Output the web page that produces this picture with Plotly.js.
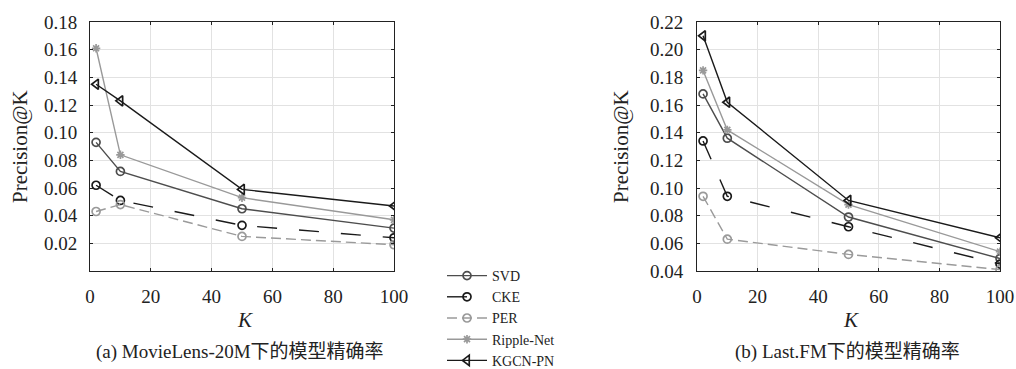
<!DOCTYPE html>
<html>
<head>
<meta charset="utf-8">
<script src="https://cdn.plot.ly/plotly-3.0.1.min.js"></script>
<style>html,body{margin:0;padding:0;background:#fff;}#chart{width:1016px;height:369px;}</style>
</head>
<body>
<div id="chart"></div>
<script>
const K = [2, 10, 50, 100];
const seriesNames = ['SVD', 'CKE', 'PER', 'Ripple-Net', 'KGCN-PN'];
// MovieLens-20M
const mlSVD = [0.093, 0.072, 0.045, 0.031];
const mlCKE = [0.062, 0.051, 0.033, 0.024];
const mlPER = [0.043, 0.048, 0.025, 0.019];
const mlRipple = [0.161, 0.084, 0.053, 0.037];
const mlKGCN = [0.135, 0.123, 0.059, 0.047];
// Last.FM
const fmSVD = [0.168, 0.136, 0.079, 0.049];
const fmCKE = [0.134, 0.094, 0.072, 0.045];
const fmPER = [0.094, 0.063, 0.052, 0.041];
const fmRipple = [0.185, 0.142, 0.088, 0.054];
const fmKGCN = [0.210, 0.162, 0.091, 0.064];
const leftTicks = [0.02, 0.04, 0.06, 0.08, 0.10, 0.12, 0.14, 0.16, 0.18];
const rightTicks = [0.04, 0.06, 0.08, 0.10, 0.12, 0.14, 0.16, 0.18, 0.20, 0.22];
const xTicks = [0, 20, 40, 60, 80, 100];

const styles = [
  {color: '#4d4d4d', dash: 'solid', symbol: 'circle-open', size: 8},
  {color: '#1a1a1a', dash: '20px,22px', symbol: 'circle-open', size: 8},
  {color: '#9a9a9a', dash: '10px,5px', symbol: 'circle-open', size: 8},
  {color: '#999999', dash: 'solid', symbol: 'asterisk-open', size: 7},
  {color: '#1a1a1a', dash: 'solid', symbol: 'triangle-left-open', size: 9}
];
const leftData = [mlSVD, mlCKE, mlPER, mlRipple, mlKGCN];
const rightData = [fmSVD, fmCKE, fmPER, fmRipple, fmKGCN];

const traces = [];
function add(dataArr, xa, ya, showLegend) {
  dataArr.forEach((ys, i) => {
    const s = styles[i];
    traces.push({
      x: K, y: ys, xaxis: xa, yaxis: ya, type: 'scatter', mode: 'lines+markers',
      name: seriesNames[i], showlegend: showLegend,
      line: {color: s.color, width: 1.4, dash: s.dash},
      marker: {symbol: s.symbol, size: s.size, color: s.color, line: {color: s.color, width: 1.7}}
    });
  });
}
add(leftData, 'x', 'y', true);
add(rightData, 'x2', 'y2', false);

const FONT = '"Liberation Serif", "Noto Sans CJK SC", serif';
const axBase = {
  showline: true, mirror: 'ticks', linecolor: '#222', linewidth: 1,
  showgrid: true, gridcolor: '#e2e2e2', gridwidth: 1, zeroline: false,
  ticks: 'inside', ticklen: 3, tickcolor: '#222', tickwidth: 1,
  tickfont: {family: FONT, size: 19, color: '#222'}
};
const yDom = [1 - 271/369, 1 - 22/369];
const layout = {
  width: 1016, height: 369,
  margin: {l: 0, r: 0, t: 0, b: 0, autoexpand: false},
  paper_bgcolor: '#fff', plot_bgcolor: '#fff',
  font: {family: FONT, color: '#222'},
  xaxis: Object.assign({}, axBase, {domain: [90/1016, 394/1016], range: [0, 100], tickvals: xTicks, ticktext: xTicks.map(String), ticklabelstandoff: 8}),
  yaxis: Object.assign({}, axBase, {domain: yDom, range: [0, 0.18], tickvals: leftTicks, ticktext: leftTicks.map(v => v.toFixed(2)), ticklabelstandoff: 8}),
  xaxis2: Object.assign({}, axBase, {domain: [697/1016, 1000/1016], range: [0, 100], tickvals: xTicks, ticktext: xTicks.map(String), anchor: 'y2', ticklabelstandoff: 8}),
  yaxis2: Object.assign({}, axBase, {domain: yDom, range: [0.04, 0.22], tickvals: rightTicks, ticktext: rightTicks.map(v => v.toFixed(2)), anchor: 'x2', ticklabelstandoff: 9}),
  legend: {x: 442/1016, y: 1 - 318/369, xanchor: 'left', yanchor: 'middle', bgcolor: 'rgba(0,0,0,0)',
    font: {family: FONT, size: 14, color: '#222'}, tracegroupgap: 0, itemwidth: 40},
  annotations: [
    {text: 'Precision@K', xref: 'paper', yref: 'paper', x: 20/1016, y: 1 - 147/369, textangle: -90, showarrow: false, font: {family: FONT, size: 21, color: '#222'}, xanchor: 'center', yanchor: 'middle'},
    {text: 'Precision@K', xref: 'paper', yref: 'paper', x: 621/1016, y: 1 - 147/369, textangle: -90, showarrow: false, font: {family: FONT, size: 21, color: '#222'}, xanchor: 'center', yanchor: 'middle'},
    {text: '<i>K</i>', xref: 'paper', yref: 'paper', x: 245/1016, y: 1 - 320/369, showarrow: false, font: {family: FONT, size: 21, color: '#222'}, xanchor: 'center', yanchor: 'middle'},
    {text: '<i>K</i>', xref: 'paper', yref: 'paper', x: 851/1016, y: 1 - 320/369, showarrow: false, font: {family: FONT, size: 21, color: '#222'}, xanchor: 'center', yanchor: 'middle'},
    {text: '(a) MovieLens-20M下的模型精确率', xref: 'paper', yref: 'paper', x: 240/1016, y: 1 - 352/369, showarrow: false, font: {family: FONT, size: 19, color: '#222'}, xanchor: 'center', yanchor: 'middle'},
    {text: '(b) Last.FM下的模型精确率', xref: 'paper', yref: 'paper', x: 847/1016, y: 1 - 352/369, showarrow: false, font: {family: FONT, size: 19, color: '#222'}, xanchor: 'center', yanchor: 'middle'}
  ]
};
Plotly.newPlot('chart', traces, layout, {displayModeBar: false, staticPlot: true});
</script>
</body>
</html>
